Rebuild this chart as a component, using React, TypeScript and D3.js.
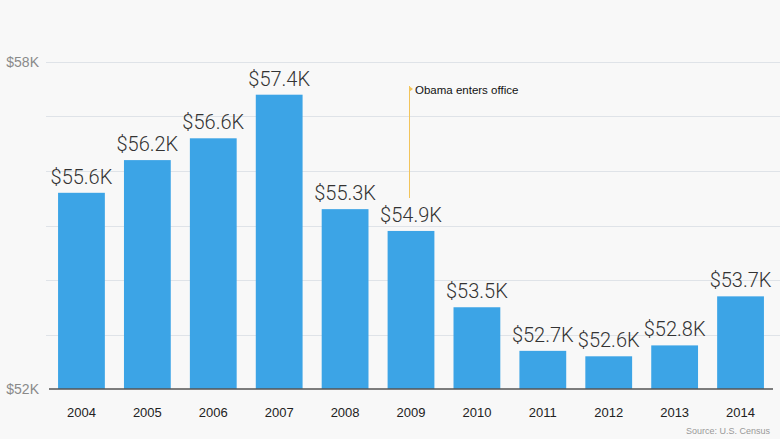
import React from "react";
import * as d3 from "d3";

const years = ["2004", "2005", "2006", "2007", "2008", "2009", "2010", "2011", "2012", "2013", "2014"];
const incomes = [55.6, 56.2, 56.6, 57.4, 55.3, 54.9, 53.5, 52.7, 52.6, 52.8, 53.7];
const yTicks = [52, 53, 54, 55, 56, 57, 58];
const yTickLabels = ["$52K", "", "", "", "", "", "$58K"];
const annotationYear = "2009";
const annotationText = "Obama enters office";
const sourceText = "Source: U.S. Census";

const W = 780;
const H = 439;
const FONT = "'Helvetica Neue', 'Liberation Sans', Arial, sans-serif";
const LIGHT = "Roboto, 'Liberation Sans', Arial, sans-serif";

export default function App() {
  const x = d3.scaleBand<string>().domain(years).range([48.5, 773.5]).paddingInner(0.29).paddingOuter(0.145);
  const y = d3.scaleLinear().domain([52, 58]).range([389, 62]);
  const annX = Math.round((x(annotationYear) ?? 0) + x.bandwidth() / 2 - 2) + 0.5;
  return (
    <svg width={W} height={H} style={{ position: "absolute", left: 0, top: 0, background: "#f8f8f8" }} fontFamily={FONT}>
      <rect x={0} y={0} width={W} height={H} fill="#f8f8f8" />
      {yTicks.slice(1).map((t) => (
        <line key={t} x1={46} x2={W} y1={Math.round(y(t)) + 0.5} y2={Math.round(y(t)) + 0.5} stroke="#dfe3e8" strokeWidth={1} />
      ))}
      {yTicks.map((t, i) =>
        yTickLabels[i] ? (
          <text key={"l" + t} x={39} y={y(t) + 5} textAnchor="end" fontSize={14} fill="#8a8a8a">
            {yTickLabels[i]}
          </text>
        ) : null
      )}
      {years.map((yr, i) => (
        <rect key={yr} x={x(yr)} y={y(incomes[i])} width={x.bandwidth()} height={y(52) - y(incomes[i])} fill="#3ca4e6" />
      ))}
      <line x1={49} x2={773} y1={389} y2={389} stroke="#555" strokeWidth={1.5} />
      {years.map((yr, i) => (
        <text key={"v" + yr} x={(x(yr) ?? 0) + x.bandwidth() / 2} y={y(incomes[i]) - 9} textAnchor="middle" fontSize={20} fill="#333" fontWeight={300} fontFamily={LIGHT}>
          {`$${incomes[i].toFixed(1)}K`}
        </text>
      ))}
      {years.map((yr) => (
        <text key={"x" + yr} x={(x(yr) ?? 0) + x.bandwidth() / 2} y={417} textAnchor="middle" fontSize={13} fill="#222">
          {yr}
        </text>
      ))}
      <line x1={annX} x2={annX} y1={86} y2={198} stroke="#f2c45a" strokeWidth={1} />
      <path d={`M${annX - 0.5},86 L${annX + 3.5},89 L${annX - 0.5},92 Z`} fill="#f2c45a" />
      <text x={annX + 5.5} y={94} fontSize={11.5} fill="#111">
        {annotationText}
      </text>
      <text x={770} y={434} textAnchor="end" fontSize={9} fill="#999">
        {sourceText}
      </text>
    </svg>
  );
}
